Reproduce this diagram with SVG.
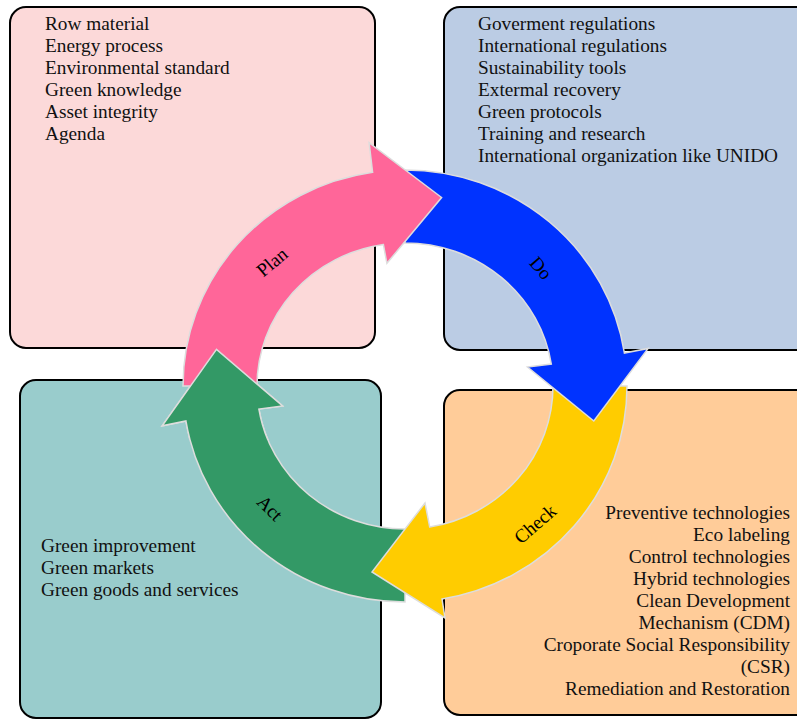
<svg xmlns="http://www.w3.org/2000/svg" width="797" height="719" viewBox="0 0 797 719">
<style>
.box{stroke:#000;stroke-width:2}
.t{font-family:"Liberation Serif","Times New Roman",serif;font-size:19.3px;fill:#111}
.r{text-anchor:end}
.arr{stroke:#DDDDDD;stroke-width:1.5;stroke-linejoin:miter}
.lbl{font-family:"Liberation Serif","Times New Roman",serif;font-size:19px;fill:#000;text-anchor:middle;dominant-baseline:central}
</style>
<defs>
<clipPath id="greenHead"><rect x="140" y="330" width="160" height="110"/></clipPath>
<path id="greenArrow" d="M 405,602 A 222 216 0 0 1 185.9,420.9 L 162.2,425.8 L 216.5,349.4 L 282.6,406.0 L 258.9,409.1 A 148 143 0 0 0 405,529 Z"/>
</defs>
<rect width="797" height="719" fill="#fff"/>
<g id="plan-box">
<rect class="box" x="10" y="7" width="365" height="341" rx="16" fill="#FCD9D9"/>
<text class="t" x="45" y="30">Row material</text>
<text class="t" x="45" y="52">Energy process</text>
<text class="t" x="45" y="74">Environmental standard</text>
<text class="t" x="45" y="96">Green knowledge</text>
<text class="t" x="45" y="118">Asset integrity</text>
<text class="t" x="45" y="140">Agenda</text>
</g>
<g id="do-box">
<rect class="box" x="444" y="7" width="372" height="343" rx="16" fill="#BBCCE4"/>
<text class="t" x="478" y="30">Goverment regulations</text>
<text class="t" x="478" y="52">International regulations</text>
<text class="t" x="478" y="74">Sustainability tools</text>
<text class="t" x="478" y="96">Extermal recovery</text>
<text class="t" x="478" y="118">Green protocols</text>
<text class="t" x="478" y="140">Training and research</text>
<text class="t" x="478" y="162">International organization like UNIDO</text>
</g>
<g id="act-box">
<rect class="box" x="20" y="380" width="361" height="338" rx="16" fill="#99CCCC"/>
<text class="t" x="41" y="552">Green improvement</text>
<text class="t" x="41" y="574">Green markets</text>
<text class="t" x="41" y="596">Green goods and services</text>
</g>
<g id="check-box">
<rect class="box" x="444" y="390" width="372" height="325" rx="16" fill="#FFCC99"/>
<text class="t r" x="790" y="519">Preventive technologies</text>
<text class="t r" x="790" y="541">Eco labeling</text>
<text class="t r" x="790" y="563">Control technologies</text>
<text class="t r" x="790" y="585">Hybrid technologies</text>
<text class="t r" x="790" y="607">Clean Development</text>
<text class="t r" x="790" y="629">Mechanism (CDM)</text>
<text class="t r" x="790" y="651">Croporate Social Responsibility</text>
<text class="t r" x="790" y="673">(CSR)</text>
<text class="t r" x="790" y="695">Remediation and Restoration</text>
</g>
<g id="connectors">
<g id="act-arrow">
<use href="#greenArrow" class="arr" fill="#339966"/>
</g>
<g id="check-arrow">
<path class="arr" fill="#FFCC00" d="M 627,386 A 222 216 0 0 1 442.0,599.0 L 445,618 L 372,572 L 425,503 L 429.7,527.0 A 148 143 0 0 0 553,386 Z"/>
</g>
<g id="do-arrow">
<path class="arr" fill="#0033FF" d="M 405,170 A 222 216 0 0 1 624.4,353.0 L 648.1,348.4 L 593.8,421.0 L 527.5,367.0 L 551.3,364.1 A 148 143 0 0 0 405,243 Z"/>
</g>
<g id="plan-arrow">
<path class="arr" fill="#FF6699" d="M 183,386 A 222 216 0 0 1 372.6,172.3 L 369.1,142.6 L 441.6,197.5 L 386.9,263.3 L 383.4,244.5 A 148 143 0 0 0 257,386 Z"/>
</g>
<g id="act-arrow-head" clip-path="url(#greenHead)">
<use href="#greenArrow" class="arr" fill="#339966"/>
</g>
<text class="lbl" transform="translate(272,262) rotate(-40)">Plan</text>
<text class="lbl" transform="translate(541,268) rotate(49)">Do</text>
<text class="lbl" transform="translate(535,524) rotate(-41)">Check</text>
<text class="lbl" transform="translate(270,508) rotate(45)">Act</text>
</g>
</svg>
